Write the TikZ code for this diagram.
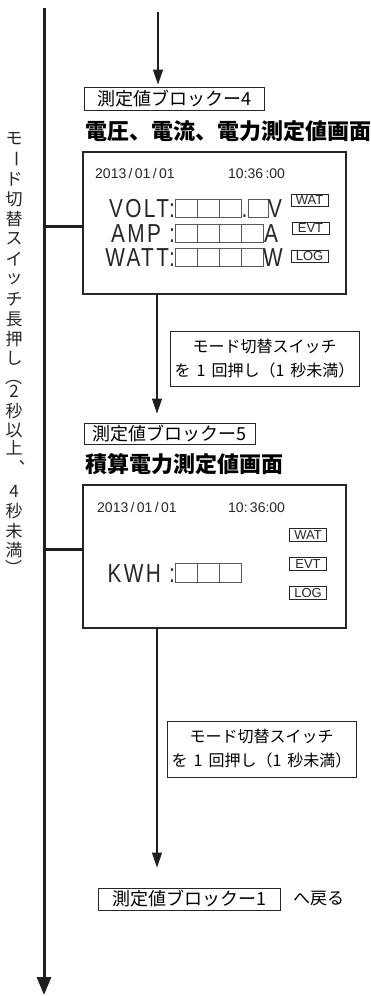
\documentclass[tikz,border=0pt]{standalone}
\usepackage{fontspec}
\usetikzlibrary{arrows.meta}
\setmainfont{Noto Sans CJK JP}
\newfontfamily\jp{Noto Sans CJK JP}
\newfontfamily\lat{Liberation Sans}
\newfontfamily\lcd[FakeStretch=0.8,LetterSpace=9]{Liberation Sans}
\begin{document}
\begin{tikzpicture}[x=1pt,y=-1pt]
\useasboundingbox (0,0) rectangle (371,996);
\tikzset{
  mainline/.style={line width=3pt,draw=black!88},
  arr/.style={line width=1.2pt,draw=black!88,-{Triangle[length=15pt,width=10pt]}},
  bigarr/.style={line width=3pt,draw=black!88,-{Triangle[length=18pt,width=14pt]}},
  screen/.style={draw=black!85,line width=1.2pt,inner sep=0pt,outer sep=0pt},
  blk/.style={draw=black!85,line width=0.9pt,inner sep=0pt,font=\jp\fontsize{18}{20}\selectfont},
  notebox/.style={draw=black!85,line width=0.9pt,inner sep=0pt,align=center,font=\jp\fontsize{16}{24}\selectfont},
  title/.style={inner sep=0pt,font=\jp\bfseries\fontsize{22}{26}\selectfont},
  vt/.style={inner sep=0pt,font=\jp\fontsize{17}{18}\selectfont,text=black!85},
  datef/.style={inner sep=0pt,font=\lat\fontsize{14}{15}\selectfont,text=black!85},
  lcdf/.style={inner sep=0pt,font=\lcd\fontsize{26}{28}\selectfont,text=black!85},
  dbox/.style={draw=black!65,line width=0.9pt},
  tag/.style={draw=black!85,line width=0.8pt,inner sep=0pt,minimum width=37pt,font=\lat\fontsize{13}{13}\selectfont,text=black!85},
  txt/.style={inner sep=0pt,font=\jp\fontsize{17}{20}\selectfont}
}
% main long-press line
\coordinate (top) at (44,8);
\coordinate (bot) at (44,995);
\draw[bigarr] (top) -- (bot);

% left vertical label
\foreach \c/\yy in {モ/139,ド/179,切/199,替/219,ス/239,イ/259,ッ/279,チ/299,長/319,押/339,し/358,2/391,秒/411,以/430,上/448,4/491,秒/511,未/531,満/550}
  \node[vt] at (14,\yy) {\c};
\node[vt,rotate=-90] at (14,159) {ー};
\node[vt,rotate=-90] at (14,377) {（};
\node[vt,rotate=-90] at (14,568) {）};
\node[vt] at (17,467) {︑};

% block 4
\coordinate (xa) at (158,12);
\node[blk,minimum width=180pt,minimum height=23pt] (b4) at (174,98.5) {測定値ブロックー4};
\draw[arr,shorten >=2pt] (xa) -- (xa |- b4.north);
\node[title,anchor=west] (t1) at (85,131) {電圧、電流、電力測定値画面};

% screen 1
\node[screen,minimum width=263pt,minimum height=142pt] (s1) at (214.5,223) {};
\coordinate (j1) at (44,226);
\draw[mainline] (j1) -- (j1 -| s1.west);
\node[datef,anchor=base west] at (95,178) {2013\,/\,01\,/\,01};
\node[datef,anchor=base west] at (228,178) {10:36\,:00};
\node[lcdf,anchor=base east] at (175,217) {VOLT:};
\foreach \i in {0,1,2} \draw[dbox] (175+22*\i,199) rectangle ++(22,18);
\node[lcdf,anchor=base] at (244.5,217) {.};
\draw[dbox] (248,199) rectangle ++(20,18);
\node[lcdf,anchor=base west] at (268,217) {V};
\node[lcdf,anchor=base east] at (175,242) {AMP :};
\foreach \i in {0,1,2,3} \draw[dbox] (175+22*\i,224) rectangle ++(22,18);
\node[lcdf,anchor=base west] at (264,242) {A};
\node[lcdf,anchor=base east] at (175,266) {WATT:};
\foreach \i in {0,1,2,3} \draw[dbox] (175+22*\i,248) rectangle ++(22,18);
\node[lcdf,anchor=base west] at (263,266) {W};
\node[tag,minimum height=12pt] at (309.5,200.5) {WAT};
\node[tag,minimum height=12pt] at (310.5,228) {EVT};
\node[tag,minimum height=12pt] at (309.5,256.5) {LOG};

% arrow 2 and note 1
\coordinate (xb) at (157,0);
\node[notebox,minimum width=189pt,minimum height=55pt] (n1) at (264.5,358.5) {モード切替スイッチ\\を\hspace{6pt}1\hspace{6pt}回押し（1\hspace{6pt}秒未満）};
\node[blk,minimum width=171pt,minimum height=21pt] (b5) at (169.5,433.5) {測定値ブロックー5};
\draw[arr,shorten >=9pt] (s1.south -| xb) -- (b5.north -| xb);
\node[title,anchor=west] (t2) at (85,464) {積算電力測定値画面};

% screen 2
\node[screen,minimum width=263pt,minimum height=143pt] (s2) at (214.5,556.5) {};
\coordinate (j2) at (44,549);
\draw[mainline] (j2) -- (j2 -| s2.west);
\node[datef,anchor=base west] at (97,512) {2013\,/\,01\,/\,01};
\node[datef,anchor=base west] at (228,512) {10:\,36:00};
\node[lcdf,anchor=base east] at (175,582) {KWH :};
\foreach \i in {0,1,2} \draw[dbox] (175+22*\i,563) rectangle ++(22,19);
\node[tag,minimum height=13pt] at (308,535) {WAT};
\node[tag,minimum height=13pt] at (308,564) {EVT};
\node[tag,minimum height=13pt] at (308,593) {LOG};

% arrow 3, note 2, block 1
\node[notebox,minimum width=189pt,minimum height=56pt] (n2) at (261.5,749) {モード切替スイッチ\\を\hspace{6pt}1\hspace{6pt}回押し（1\hspace{6pt}秒未満）};
\node[blk,minimum width=182pt,minimum height=22pt] (b1) at (189,899) {測定値ブロックー1};
\draw[arr,shorten >=20pt] (s2.south -| xb) -- (b1.north -| xb);
\node[txt,anchor=west] (back) at (293,899) {へ戻る};
\end{tikzpicture}
\end{document}
